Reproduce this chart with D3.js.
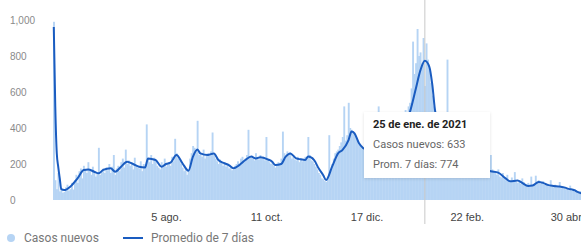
<!DOCTYPE html>
<html>
<head>
<meta charset="utf-8">
<script src="https://cdn.jsdelivr.net/npm/d3@7"></script>
<style>
	body { margin: 0; background: #fff; }
	svg { display: block; font-family: Roboto, "Noto Sans", sans-serif; }
</style>
</head>
<body>
<svg id="chart"></svg>
<script>
// daily new cases, one value per day starting 22 May 2020
const startDate = new Date(2020, 4, 22);
const dailyCases = [
	990, 110, 60, 150, 48, 62, 40,
	45, 70, 85, 52, 60, 95, 58,
	110, 140, 95, 160, 175, 120, 190,
	170, 150, 210, 165, 140, 185, 160,
	130, 150, 290, 140, 160, 175, 150,
	180, 165, 200, 150, 185, 250, 140,
	175, 190, 160, 210, 230, 180, 280,
	200, 220, 190, 210, 170, 235, 195,
	180, 175, 215, 160, 200, 190, 420,
	230, 210, 250, 200, 235, 215, 190,
	180, 170, 210, 195, 230, 185, 200,
	210, 190, 240, 215, 340, 260, 230,
	220, 200, 180, 160, 175, 140, 165,
	230, 260, 300, 290, 270, 440, 250,
	260, 240, 280, 230, 255, 260, 245,
	270, 375, 250, 230, 215, 200, 225,
	210, 190, 205, 185, 200, 175, 180,
	165, 170, 190, 200, 215, 195, 230,
	240, 210, 230, 250, 390, 235, 245,
	230, 220, 260, 240, 225, 250, 230,
	240, 220, 350, 230, 210, 200, 215,
	190, 180, 200, 210, 195, 230, 380,
	260, 245, 270, 250, 265, 230, 240,
	225, 220, 240, 210, 230, 215, 225,
	240, 230, 350, 250, 220, 215, 200,
	185, 170, 150, 140, 120, 115, 105,
	100, 130, 360, 170, 200, 230, 260,
	270, 280, 300, 320, 350, 520, 330,
	360, 540, 400, 390, 380, 370, 350,
	330, 310, 300, 290, 280, 270, 265,
	270, 260, 280, 250, 290, 300, 310,
	520, 300, 320, 340, 310, 350, 360,
	370, 380, 360, 400, 420, 390, 410,
	430, 450, 470, 440, 500, 480, 520,
	540, 620, 880, 700, 760, 950, 800,
	820, 760, 900, 633, 870, 780, 720,
	650, 580, 520, 470, 440, 400, 380,
	360, 340, 320, 300, 780, 280, 260,
	250, 240, 230, 220, 210, 230, 200,
	210, 200, 190, 205, 195, 200, 185,
	190, 180, 175, 185, 170, 180, 175,
	170, 180, 165, 175, 160, 250, 170,
	160, 150, 140, 170, 130, 125, 150,
	120, 110, 140, 105, 100, 125, 110,
	155, 100, 95, 110, 90, 120, 100,
	85, 80, 95, 75, 130, 85, 90,
	135, 100, 110, 90, 95, 105, 85,
	80, 90, 75, 110, 80, 70, 85,
	75, 70, 100, 65, 75, 70, 60,
	65, 55, 80, 50, 60, 45, 55,
	40, 35, 50, 30
];

// 7-day average, read at day offsets from startDate
const avgDays = [
	0, 1, 2, 3, 4, 5, 7, 11, 16, 20, 23, 27, 30, 33, 38, 41, 45, 49, 53, 57,
	61, 63, 68, 72, 75, 78, 82, 86, 90, 93, 96, 98, 103, 107, 110, 114, 117, 120, 124, 128,
	132, 135, 138, 143, 146, 148, 152, 155, 158, 162, 165, 168, 170, 174, 177, 180, 182, 186, 190, 193,
	197, 199, 201, 204, 207, 212, 219, 229, 238, 242, 245, 248, 251, 253, 255, 262, 269, 279, 287, 292,
	297, 302, 305, 310, 313, 317, 320, 324, 327, 330, 334, 338, 341, 344, 348, 350, 353
];
const avgValues = [
	961, 520, 260, 183, 120, 60, 55, 74, 122, 167, 170, 157, 148, 167, 176, 157, 185, 213, 200, 185,
	181, 231, 222, 185, 200, 207, 250, 204, 163, 241, 281, 259, 250, 259, 222, 204, 194, 176, 194, 222,
	241, 231, 237, 226, 213, 194, 200, 241, 259, 231, 226, 222, 241, 222, 176, 139, 111, 185, 259, 278,
	333, 380, 370, 315, 287, 265, 290, 370, 489, 620, 720, 774, 740, 640, 489, 360, 260, 200, 175, 160,
	152, 120, 104, 108, 95, 78, 80, 100, 95, 84, 78, 75, 70, 62, 54, 45, 36
];

const xTickDates = ["2020-08-05", "2020-10-11", "2020-12-17", "2021-02-22", "2021-04-30"];
const xTickLabels = ["5 ago.", "11 oct.", "17 dic.", "22 feb.", "30 abr."];
const yTicks = [0, 200, 400, 600, 800, 1000];

const tooltipDate = "2021-01-25";
const tooltipTitle = "25 de ene. de 2021";
const tooltipLines = ["Casos nuevos: 633", "Prom. 7 días: 774"];
const legendLabels = ["Casos nuevos", "Promedio de 7 días"];

const w = 581, h = 246;
const parse = d3.timeParse("%Y-%m-%d");

const svg = d3.select("#chart")
	.attr("width", w)
	.attr("height", h);

const x = d3.scaleTime()
	.domain([parse(xTickDates[0]), parse(xTickDates[4])])
	.range([166, 567]);

const y = d3.scaleLinear()
	.domain([0, 1000])
	.range([200, 20]);

const dayW = x(d3.timeDay.offset(startDate, 1)) - x(startDate);

// y axis labels, left aligned
svg.append("g")
	.attr("transform", "translate(8,0)")
	.call(d3.axisRight(y).tickValues(yTicks).tickSize(0).tickPadding(2).tickFormat(d3.format(",")))
	.call(g => g.select(".domain").remove())
	.selectAll("text")
	.attr("font-size", "10px")
	.attr("fill", "#8a8a8a");

// bars
svg.append("g")
	.selectAll("rect")
	.data(dailyCases)
	.enter()
	.append("rect")
	.attr("x", (d, i) => x(d3.timeDay.offset(startDate, i)) - dayW / 2)
	.attr("width", dayW + 0.4)
	.attr("y", d => y(d))
	.attr("height", d => y(0) - y(d))
	.attr("fill", "#b6d4f4");

// hover rule
const hx = x(parse(tooltipDate));
svg.append("line")
	.attr("x1", hx).attr("x2", hx)
	.attr("y1", 0).attr("y2", 224)
	.attr("stroke", "#c8c8c8")
	.attr("stroke-width", 1);

// 7-day average line
const lineFun = d3.line()
	.x(d => x(d3.timeDay.offset(startDate, d[0])))
	.y(d => y(d[1]))
	.curve(d3.curveMonotoneX);

svg.append("path")
	.attr("d", lineFun(avgDays.map((d, i) => [d, avgValues[i]])))
	.attr("fill", "none")
	.attr("stroke", "#1a5cc0")
	.attr("stroke-width", 2)
	.attr("stroke-linejoin", "round");

// x axis
svg.append("g")
	.attr("transform", "translate(0,205)")
	.call(d3.axisBottom(x).tickValues(xTickDates.map(parse)).tickSize(0).tickPadding(8)
		.tickFormat((d, i) => xTickLabels[i]))
	.call(g => g.select(".domain").remove())
	.selectAll("text")
	.attr("font-size", "11px")
	.attr("fill", "#444");

// tooltip
const defs = svg.append("defs");
const shadow = defs.append("filter").attr("id", "shadow")
	.attr("x", "-10%").attr("y", "-10%").attr("width", "120%").attr("height", "130%");
shadow.append("feDropShadow")
	.attr("dx", 0).attr("dy", 1).attr("stdDeviation", 1.5)
	.attr("flood-color", "#000").attr("flood-opacity", 0.12);

const tip = svg.append("g").attr("transform", "translate(364,112)");
tip.append("rect")
	.attr("width", 126)
	.attr("height", 66)
	.attr("fill", "#fff")
	.attr("filter", "url(#shadow)");
tip.append("text")
	.attr("x", 9).attr("y", 16)
	.attr("font-size", "11px")
	.attr("font-weight", "bold")
	.attr("fill", "#222")
	.text(tooltipTitle);
tip.selectAll(".tl")
	.data(tooltipLines)
	.enter()
	.append("text")
	.attr("class", "tl")
	.attr("x", 9)
	.attr("y", (d, i) => 36 + i * 20)
	.attr("font-size", "11px")
	.attr("fill", "#666")
	.text(d => d);

// legend
const legend = svg.append("g").attr("transform", "translate(0,238)");
legend.append("circle")
	.attr("cx", 11).attr("cy", 0).attr("r", 4)
	.attr("fill", "#b6d4f4");
legend.append("text")
	.attr("x", 24).attr("y", 0).attr("dy", "0.35em")
	.attr("font-size", "12px").attr("fill", "#777")
	.text(legendLabels[0]);
legend.append("line")
	.attr("x1", 123).attr("x2", 143)
	.attr("y1", 0).attr("y2", 0)
	.attr("stroke", "#1a5cc0").attr("stroke-width", 2);
legend.append("text")
	.attr("x", 151).attr("y", 0).attr("dy", "0.35em")
	.attr("font-size", "12px").attr("fill", "#777")
	.text(legendLabels[1]);
</script>
</body>
</html>
